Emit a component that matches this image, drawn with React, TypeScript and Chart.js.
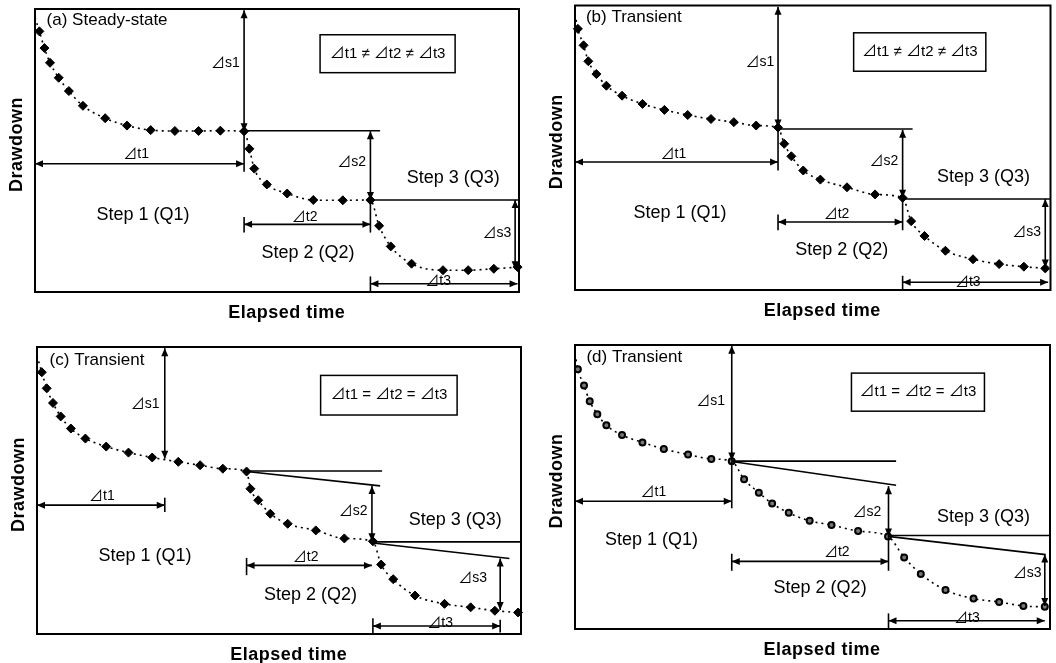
import React, { useEffect, useRef } from 'react';
import { Chart, registerables } from 'chart.js';
Chart.register(...registerables);

// ---------- text ----------
const xAxisTitle = 'Elapsed time';
const yAxisTitle = 'Drawdown';
const panelTitles = ['(a) Steady-state', '(b) Transient', '(c) Transient', '(d) Transient'];
const ratioLabels = ['⊿t1 ≠ ⊿t2 ≠ ⊿t3', '⊿t1 ≠ ⊿t2 ≠ ⊿t3', '⊿t1 = ⊿t2 = ⊿t3', '⊿t1 = ⊿t2 = ⊿t3'];
const stepLabels = ['Step 1 (Q1)', 'Step 2 (Q2)', 'Step 3 (Q3)'];
const deltaLabels = ['⊿s1', '⊿s2', '⊿s3', '⊿t1', '⊿t2', '⊿t3'];

// ---------- series (elapsed time %, drawdown %) ----------
const timeA = [0, 0.9, 1.95, 3.1, 4.9, 7.0, 9.9, 14.5, 19.0, 23.9, 28.9, 33.8, 38.3, 43.2, 44.3, 45.3, 47.9, 52.1, 57.5, 63.6, 69.3, 71.1, 73.5, 77.8, 84.3, 89.5, 94.8, 99.7];
const drawdownA = [3, 7.9, 13.8, 19.0, 24.3, 29.0, 34.2, 38.6, 41.2, 42.8, 43.1, 43.1, 43.0, 43.2, 49.4, 56.4, 62.0, 65.2, 67.5, 67.6, 67.5, 76.6, 83.9, 90.0, 92.3, 92.3, 91.8, 91.2];

const timeB = [0, 0.6, 1.8, 2.8, 4.5, 6.6, 9.9, 14.2, 18.8, 23.7, 28.6, 33.4, 38.1, 42.7, 44.0, 45.5, 48.0, 51.6, 57.2, 63.1, 68.9, 70.7, 73.5, 77.9, 83.7, 89.2, 94.4, 98.9];
const drawdownB = [3, 8.2, 14.0, 19.6, 24.1, 28.2, 31.7, 34.6, 36.7, 38.5, 39.9, 41.0, 42.2, 42.9, 48.6, 53.0, 58.0, 61.2, 63.9, 66.4, 67.6, 75.8, 81.0, 86.2, 89.2, 90.9, 91.8, 92.4];

const timeC = [0, 1.0, 2.0, 3.3, 4.9, 7.0, 10.0, 14.3, 18.9, 23.8, 29.2, 33.7, 38.4, 43.3, 44.1, 45.7, 48.2, 51.8, 57.6, 63.5, 69.4, 71.1, 73.6, 78.1, 84.2, 89.6, 94.6, 99.4];
const drawdownC = [3, 8.8, 14.4, 19.5, 24.2, 28.4, 31.9, 34.7, 36.8, 38.5, 40.0, 41.2, 42.4, 43.4, 49.4, 53.4, 58.1, 61.6, 63.9, 66.7, 67.7, 75.8, 80.9, 86.6, 89.5, 90.7, 91.9, 92.5];

const timeD = [0, 0.6, 1.9, 3.1, 4.7, 6.6, 9.9, 14.2, 18.7, 23.8, 28.7, 33.0, 35.6, 38.7, 41.5, 45.0, 49.4, 54.0, 59.6, 65.9, 69.3, 72.8, 78.0, 83.9, 89.3, 94.4, 98.9];
const drawdownD = [3, 8.5, 14.3, 19.8, 24.4, 28.3, 31.7, 34.3, 36.6, 38.6, 40.1, 40.9, 47.3, 52.0, 55.8, 59.1, 61.9, 63.4, 65.5, 67.4, 74.8, 80.6, 86.3, 89.3, 90.5, 91.9, 92.2];

// ---------- schematic annotations in data units [x1, y1, x2, y2] ----------
// order: ds1, ds2, ds3, dt1, dt2, dt3
const arrowsA = [[43.2, 0.4, 43.2, 43.2], [69.3, 43.2, 69.3, 67.5], [99.2, 67.5, 99.2, 92.0], [0, 54.7, 43.2, 54.7], [43.2, 76.1, 69.3, 76.1], [69.3, 97.1, 99.7, 97.1]];
const arrowsB = [[42.7, 0.4, 42.7, 42.9], [68.9, 43.7, 68.9, 67.6], [98.9, 68, 98.9, 92.1], [0, 55, 42.7, 55], [42.7, 76.1, 68.9, 76.1], [68.9, 97.3, 99.5, 97.3]];
const arrowsC = [[26.4, 0.4, 26.4, 38.9], [69.2, 48.4, 69.2, 67.7], [95.7, 73.7, 95.7, 91.6], [0, 55.1, 26.4, 55.1], [43.3, 76.1, 69.2, 76.1], [69.4, 97.2, 95.7, 97.2]];
const arrowsD = [[33, 0.3, 33, 40.7], [66, 49.7, 66, 67.4], [98.9, 73.8, 98.9, 91.9], [0, 55, 33, 55], [33, 76.2, 66, 76.2], [66, 97.1, 98.9, 97.1]];

const linesA = [[43.2, 43.0, 71.3, 43.0], [69.3, 67.5, 100, 67.5], [43.2, 43.2, 43.2, 57.5], [43.2, 73.5, 43.2, 79], [69.3, 67.5, 69.3, 79], [69.3, 94.5, 69.3, 100]];
const linesB = [[42.7, 43.4, 71, 43.4], [68.9, 68, 100, 68], [42.7, 42.9, 42.7, 58], [42.7, 73.5, 42.7, 79], [68.9, 67.6, 68.9, 79], [68.9, 95, 68.9, 100]];
const linesC = [[43.3, 43.2, 71.3, 43.2], [43.3, 43.4, 70.9, 48.4], [69.4, 67.9, 100, 67.9], [69.4, 68.3, 97.6, 73.7], [26.4, 52.5, 26.4, 57.5], [43.3, 73.5, 43.3, 79.5], [69.4, 94.5, 69.4, 100], [95.7, 95, 95.7, 99.5]];
const linesD = [[33, 40.9, 67.6, 40.9], [33, 41, 67.6, 49.4], [65.9, 67.1, 100, 67.1], [65.9, 67.4, 99.1, 73.8], [33, 41, 33, 57.5], [33, 73.5, 33, 79.5], [66, 67.4, 66, 79.5], [66, 94.5, 66, 100]];

// label anchors (x, y) for ds1, ds2, ds3 (right-aligned) and dt1, dt2, dt3 (centred)
const deltaPosA = [[42.3, 19.0], [68.4, 54.0], [98.4, 79.2], [20.9, 51.2], [55.7, 73.4], [83.3, 96.0]];
const deltaPosB = [[41.9, 19.8], [68.0, 54.8], [98.0, 79.5], [20.7, 52.1], [55.0, 73.4], [82.6, 97.1]];
const deltaPosC = [[25.3, 19.8], [68.3, 57.2], [93.0, 80.5], [13.4, 51.9], [55.5, 73.3], [83.3, 96.3]];
const deltaPosD = [[31.6, 19.8], [64.5, 58.7], [98.2, 80.2], [16.5, 51.7], [55.1, 73.0], [82.5, 96.2]];

const stepPosA = [[22.3, 72.8], [56.4, 86.2], [86.4, 59.9]];
const stepPosB = [[22.1, 72.8], [56.1, 85.9], [85.9, 60.3]];
const stepPosC = [[22.3, 72.9], [56.5, 86.4], [86.4, 60.4]];
const stepPosD = [[16.1, 68.6], [51.6, 85.7], [86.0, 60.5]];

const boxA = [58.9, 9.1, 86.8, 22.5];
const boxB = [58.6, 9.6, 86.4, 23.1];
const boxC = [58.6, 9.9, 86.8, 23.7];
const boxD = [58.2, 9.9, 86.2, 23.3];

const titlePos = [[2.4, 4.1], [2.3, 4.1], [2.6, 4.7], [2.4, 4.4]];

// ---------- layout ----------
const layouts = [
  { left: 0, top: 0, w: 528, h: 330, pad: { left: 35, top: 9, right: 9, bottom: 38 } },
  { left: 528, top: 0, w: 528, h: 330, pad: { left: 47, top: 5, right: 1, bottom: 40 } },
  { left: 0, top: 330, w: 528, h: 333, pad: { left: 37, top: 17, right: 7, bottom: 29 } },
  { left: 528, top: 330, w: 528, h: 333, pad: { left: 47, top: 15, right: 1, bottom: 34 } },
];

const panels = [
  { time: timeA, dd: drawdownA, arrows: arrowsA, lines: linesA, dpos: deltaPosA, spos: stepPosA, box: boxA, hollow: false },
  { time: timeB, dd: drawdownB, arrows: arrowsB, lines: linesB, dpos: deltaPosB, spos: stepPosB, box: boxB, hollow: false },
  { time: timeC, dd: drawdownC, arrows: arrowsC, lines: linesC, dpos: deltaPosC, spos: stepPosC, box: boxC, hollow: false },
  { time: timeD, dd: drawdownD, arrows: arrowsD, lines: linesD, dpos: deltaPosD, spos: stepPosD, box: boxD, hollow: true },
];

const FONT = '"Liberation Sans", Arial, "Noto Sans CJK JP", "DejaVu Sans", sans-serif';

function head(ctx: CanvasRenderingContext2D, x: number, y: number, ang: number) {
  const L = 8, W = 3.5;
  ctx.beginPath();
  ctx.moveTo(x, y);
  ctx.lineTo(x - L * Math.cos(ang) + W * Math.sin(ang), y - L * Math.sin(ang) - W * Math.cos(ang));
  ctx.lineTo(x - L * Math.cos(ang) - W * Math.sin(ang), y - L * Math.sin(ang) + W * Math.cos(ang));
  ctx.closePath();
  ctx.fill();
}

function makePlugin(i: number) {
  const p = panels[i];
  return {
    id: 'diagram' + i,
    afterDatasetsDraw(chart: any) {
      const ctx: any = chart.ctx;
      const xs = chart.scales.x, ys = chart.scales.y;
      const X = (v: number) => xs.getPixelForValue(v);
      const Y = (v: number) => ys.getPixelForValue(v);
      const a = chart.chartArea;
      ctx.save();
      ctx.strokeStyle = '#000';
      ctx.fillStyle = '#000';
      // frame
      ctx.lineWidth = 2;
      ctx.strokeRect(a.left, a.top, a.right - a.left, a.bottom - a.top);
      // plain lines
      ctx.lineWidth = 1.6;
      p.lines.forEach((s) => {
        ctx.beginPath();
        ctx.moveTo(X(s[0]), Y(s[1]));
        ctx.lineTo(X(s[2]), Y(s[3]));
        ctx.stroke();
      });
      // double arrows
      p.arrows.forEach((s) => {
        const x1 = X(s[0]), y1 = Y(s[1]), x2 = X(s[2]), y2 = Y(s[3]);
        ctx.beginPath();
        ctx.moveTo(x1, y1);
        ctx.lineTo(x2, y2);
        ctx.stroke();
        const ang = Math.atan2(y2 - y1, x2 - x1);
        head(ctx, x2, y2, ang);
        head(ctx, x1, y1, ang + Math.PI);
      });
      // box
      const b = p.box;
      ctx.lineWidth = 1.5;
      ctx.strokeRect(X(b[0]), Y(b[1]), X(b[2]) - X(b[0]), Y(b[3]) - Y(b[1]));
      ctx.textBaseline = 'middle';
      ctx.textAlign = 'center';
      ctx.font = '15px ' + FONT;
      ctx.fillText(ratioLabels[i], (X(b[0]) + X(b[2])) / 2, (Y(b[1]) + Y(b[3])) / 2);
      // delta labels
      ctx.font = '14px ' + FONT;
      p.dpos.forEach((q, k) => {
        ctx.textAlign = k < 3 ? 'right' : 'center';
        ctx.fillText(deltaLabels[k], X(q[0]), Y(q[1]));
      });
      // step labels
      ctx.font = '18px ' + FONT;
      ctx.textAlign = 'center';
      p.spos.forEach((q, k) => ctx.fillText(stepLabels[k], X(q[0]), Y(q[1])));
      // panel title
      ctx.font = '17px ' + FONT;
      ctx.textAlign = 'left';
      ctx.fillText(panelTitles[i], X(titlePos[i][0]), Y(titlePos[i][1]));
      // axis titles
      ctx.font = 'bold 18px ' + FONT;
      ctx.letterSpacing = '0.5px';
      ctx.textAlign = 'center';
      ctx.fillText(xAxisTitle, a.left + 0.52 * (a.right - a.left), a.bottom + 21);
      ctx.translate(a.left - 18, (a.top + a.bottom) / 2 - 6);
      ctx.rotate(-Math.PI / 2);
      ctx.fillText(yAxisTitle, 0, 0);
      ctx.restore();
    },
  };
}

function Panel({ index }: { index: number }) {
  const ref = useRef<HTMLCanvasElement>(null);
  const lay = layouts[index];
  useEffect(() => {
    const p = panels[index];
    const data = p.time.map((t, k) => ({ x: t, y: p.dd[k] }));
    const chart = new Chart(ref.current!, {
      type: 'line',
      data: {
        datasets: [
          {
            data,
            borderColor: '#000',
            borderWidth: 1.6,
            borderDash: [2, 4],
            cubicInterpolationMode: 'monotone',
            pointStyle: p.hollow ? 'circle' : 'rectRot',
            pointRadius: (c: any) => (c.dataIndex === 0 ? 0 : p.hollow ? 3 : 4.5),
            pointBackgroundColor: p.hollow ? '#777' : '#000',
            pointBorderColor: '#000',
            pointBorderWidth: p.hollow ? 2 : 1,
            clip: false,
          } as any,
        ],
      },
      options: {
        animation: false,
        responsive: false,
        maintainAspectRatio: false,
        events: [],
        layout: { padding: lay.pad },
        plugins: { legend: { display: false }, tooltip: { enabled: false } },
        scales: {
          x: { type: 'linear', min: 0, max: 100, display: false },
          y: { type: 'linear', min: 0, max: 100, reverse: true, display: false },
        },
      },
      plugins: [makePlugin(index)],
    });
    return () => chart.destroy();
  }, [index]);
  return (
    <canvas
      ref={ref}
      width={lay.w}
      height={lay.h}
      style={{ position: 'absolute', left: lay.left, top: lay.top, width: lay.w, height: lay.h, display: 'block' }}
    />
  );
}

export default function App() {
  return (
    <div style={{ position: 'fixed', left: 0, top: 0, width: 1056, height: 663, background: '#fff', overflow: 'hidden' }}>
      {[0, 1, 2, 3].map((i) => (
        <Panel key={i} index={i} />
      ))}
    </div>
  );
}
